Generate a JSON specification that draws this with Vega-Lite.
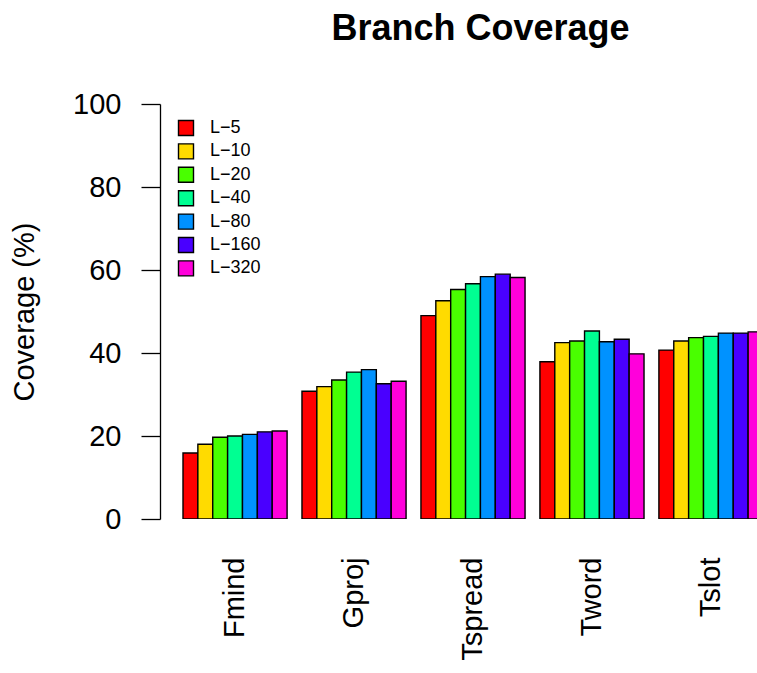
{
  "$schema": "https://vega.github.io/schema/vega-lite/v6.json",
  "width": 597,
  "height": 415,
  "autosize": {"type": "none"},
  "padding": {"left": 160, "top": 104, "right": 0, "bottom": 154},
  "background": "white",
  "config": {
    "font": "Liberation Sans",
    "view": {"stroke": null}
  },
  "title": {
    "text": "Branch Coverage",
    "fontSize": 36,
    "fontWeight": "bold",
    "font": "Liberation Sans",
    "color": "black",
    "anchor": "middle",
    "dx": 22,
    "offset": 42
  },
  "data": {
    "values": [
      {"prog": "Fmind", "cfg": "L−5", "v": 15.9},
      {"prog": "Fmind", "cfg": "L−10", "v": 18.0},
      {"prog": "Fmind", "cfg": "L−20", "v": 19.7},
      {"prog": "Fmind", "cfg": "L−40", "v": 20.0},
      {"prog": "Fmind", "cfg": "L−80", "v": 20.4},
      {"prog": "Fmind", "cfg": "L−160", "v": 21.0},
      {"prog": "Fmind", "cfg": "L−320", "v": 21.2},
      {"prog": "Gproj", "cfg": "L−5", "v": 30.8},
      {"prog": "Gproj", "cfg": "L−10", "v": 31.9},
      {"prog": "Gproj", "cfg": "L−20", "v": 33.5},
      {"prog": "Gproj", "cfg": "L−40", "v": 35.4},
      {"prog": "Gproj", "cfg": "L−80", "v": 36.0},
      {"prog": "Gproj", "cfg": "L−160", "v": 32.6},
      {"prog": "Gproj", "cfg": "L−320", "v": 33.2},
      {"prog": "Tspread", "cfg": "L−5", "v": 49.0},
      {"prog": "Tspread", "cfg": "L−10", "v": 52.6},
      {"prog": "Tspread", "cfg": "L−20", "v": 55.3},
      {"prog": "Tspread", "cfg": "L−40", "v": 56.7},
      {"prog": "Tspread", "cfg": "L−80", "v": 58.4},
      {"prog": "Tspread", "cfg": "L−160", "v": 59.0},
      {"prog": "Tspread", "cfg": "L−320", "v": 58.2},
      {"prog": "Tword", "cfg": "L−5", "v": 37.9},
      {"prog": "Tword", "cfg": "L−10", "v": 42.5},
      {"prog": "Tword", "cfg": "L−20", "v": 42.9},
      {"prog": "Tword", "cfg": "L−40", "v": 45.3},
      {"prog": "Tword", "cfg": "L−80", "v": 42.7},
      {"prog": "Tword", "cfg": "L−160", "v": 43.3},
      {"prog": "Tword", "cfg": "L−320", "v": 39.8},
      {"prog": "Tslot", "cfg": "L−5", "v": 40.7},
      {"prog": "Tslot", "cfg": "L−10", "v": 42.9},
      {"prog": "Tslot", "cfg": "L−20", "v": 43.7},
      {"prog": "Tslot", "cfg": "L−40", "v": 44.0},
      {"prog": "Tslot", "cfg": "L−80", "v": 44.8},
      {"prog": "Tslot", "cfg": "L−160", "v": 44.8},
      {"prog": "Tslot", "cfg": "L−320", "v": 45.1}
    ]
  },
  "mark": {"type": "bar", "stroke": "black", "strokeWidth": 1.4, "clip": true},
  "encoding": {
    "x": {
      "field": "prog",
      "type": "nominal",
      "sort": ["Fmind", "Gproj", "Tspread", "Tword", "Tslot"],
      "scale": {"range": [0, 626], "paddingInner": 0.125, "paddingOuter": 0.1933},
      "axis": {
        "title": null,
        "domain": false,
        "ticks": false,
        "tickSize": 0,
        "labelAngle": -90,
        "labelAlign": "right",
        "labelBaseline": "middle",
        "labelPadding": 38,
        "labelFontSize": 29,
        "labelColor": "black",
        "labelFont": "Liberation Sans"
      }
    },
    "xOffset": {
      "field": "cfg",
      "type": "nominal",
      "sort": ["L−5", "L−10", "L−20", "L−40", "L−80", "L−160", "L−320"],
      "scale": {"paddingInner": 0, "paddingOuter": 0}
    },
    "y": {
      "field": "v",
      "type": "quantitative",
      "scale": {"domain": [0, 100], "nice": false, "zero": true},
      "axis": {
        "title": "Coverage (%)",
        "titleFontSize": 29,
        "titleFontWeight": "normal",
        "titleColor": "black",
        "titleFont": "Liberation Sans",
        "titlePadding": 33,
        "values": [0, 20, 40, 60, 80, 100],
        "grid": false,
        "domainColor": "black",
        "domainWidth": 1.3,
        "tickColor": "black",
        "tickWidth": 1.3,
        "tickSize": 19,
        "labelPadding": 20,
        "labelFontSize": 29,
        "labelColor": "black",
        "labelFont": "Liberation Sans",
        "labelFlush": false
      }
    },
    "fill": {
      "field": "cfg",
      "type": "nominal",
      "sort": ["L−5", "L−10", "L−20", "L−40", "L−80", "L−160", "L−320"],
      "scale": {
        "domain": ["L−5", "L−10", "L−20", "L−40", "L−80", "L−160", "L−320"],
        "range": ["#FF0000", "#FFDB00", "#49FF00", "#00FF92", "#0092FF", "#4900FF", "#FF00DB"]
      },
      "legend": {
        "title": null,
        "orient": "none",
        "legendX": 17,
        "legendY": 15,
        "symbolType": "square",
        "symbolSize": 225,
        "symbolStrokeColor": "black",
        "symbolStrokeWidth": 1.4,
        "labelFontSize": 18,
        "labelColor": "black",
        "labelFont": "Liberation Sans",
        "labelOffset": 15,
        "rowPadding": 1.4,
        "padding": 0
      }
    }
  }
}
